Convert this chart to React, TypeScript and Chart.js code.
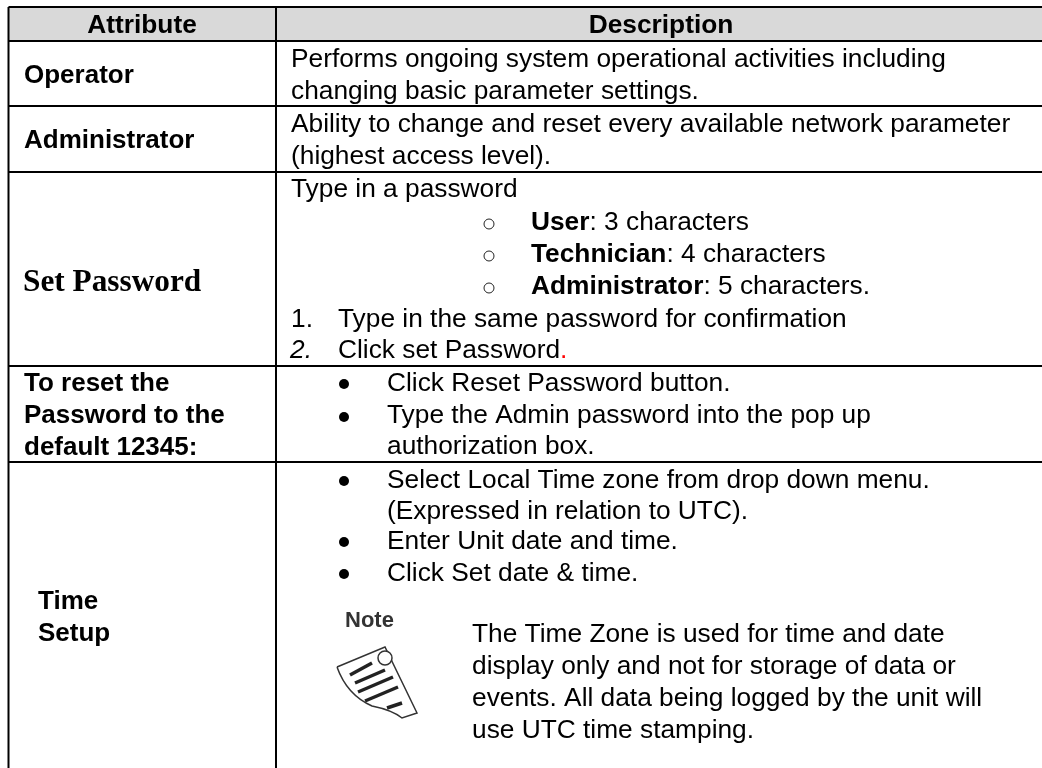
import React, { useEffect, useRef } from "react";
import { Chart, registerables } from "chart.js";

Chart.register(...registerables);

const WIDTH = 1042;
const HEIGHT = 768;
// Chart.js insets the plot area by the largest point overflow, so the canvas grows by it.
const OVERFLOW = 6;

// Table structure
const columnRules = [8.5, 276];
const rowRules = [7, 41, 106, 172, 366, 462];
const headerLabels = ["Attribute", "Description"];
const attributes = ["Operator", "Administrator", "Set Password", "To reset the", "Password to the", "default 12345:", "Time", "Setup"];
const descriptionLines = [
  "Performs ongoing system operational activities including",
  "changing basic parameter settings.",
  "Ability to change and reset every available network parameter",
  "(highest access level).",
  "Type in a password",
];
const passwordRoles = ["User", "Technician", "Administrator"];
const passwordLengths = [": 3 characters", ": 4 characters", ": 5 characters."];
const numberedSteps = ["Type in the same password for confirmation", "Click set Password"];
const bulletLines = [
  "Click Reset Password button.",
  "Type the Admin password into the pop up",
  "authorization box.",
  "Select Local Time zone from drop down menu.",
  "(Expressed in relation to UTC).",
  "Enter Unit date and time.",
  "Click Set date & time.",
];
const noteLines = [
  "The Time Zone is used for time and date",
  "display only and not for storage of data or",
  "events. All data being logged by the unit will",
  "use UTC time stamping.",
];

// Placement
const attributeAt = [[24, 83], [24, 148], [23, 291], [24, 391], [24, 423], [24, 455], [38, 609], [38, 641]];
const descriptionY = [67, 99, 132, 164, 197];
const roleY = [230, 262, 294];
const stepY = [327, 358];
const bulletLineY = [391, 423, 454, 488, 519, 549, 581];
const noteY = [642, 674, 706, 738];
const openBullets = [[489, 224], [489, 256], [489, 288]];
const solidBullets = [[344, 384], [344, 417], [344, 481], [344, 542], [344, 574]];

const SANS = '"Liberation Sans"';
const BODY = `26.3px ${SANS}`;
const BOLD = `bold 26px ${SANS}`;

const rule = (data: { x: number; y: number }[]) => ({
  type: "scatter" as const,
  data,
  showLine: true,
  borderColor: "#000",
  borderWidth: 2,
  pointRadius: 0,
  order: 1,
});

const tablePlugin = {
  id: "tableText",
  beforeDatasetsDraw(chart: any) {
    const { ctx, scales } = chart;
    const X = (v: number) => scales.x.getPixelForValue(v);
    const Y = (v: number) => scales.y.getPixelForValue(v);
    ctx.save();
    ctx.fillStyle = "#d9d9d9";
    ctx.fillRect(X(columnRules[0]), Y(rowRules[0]), X(WIDTH) - X(columnRules[0]), Y(rowRules[1]) - Y(rowRules[0]));
    ctx.restore();
  },
  afterDatasetsDraw(chart: any) {
    const { ctx, scales } = chart;
    const X = (v: number) => scales.x.getPixelForValue(v);
    const Y = (v: number) => scales.y.getPixelForValue(v);
    const put = (s: string, x: number, y: number, font = BODY, color = "#000", align: CanvasTextAlign = "left") => {
      ctx.font = font;
      ctx.fillStyle = color;
      ctx.textAlign = align;
      ctx.textBaseline = "alphabetic";
      ctx.fillText(s, X(x), Y(y));
      return ctx.measureText(s).width;
    };
    ctx.save();
    const HEAD = `bold 26.3px ${SANS}`;
    put(headerLabels[0], 142, 33, HEAD, "#000", "center");
    put(headerLabels[1], 661, 33, HEAD, "#000", "center");
    attributes.forEach((s, i) => {
      const f = s === "Set Password" ? 'bold 31.3px "Liberation Serif"' : BOLD;
      put(s, attributeAt[i][0], attributeAt[i][1], f);
    });
    descriptionLines.forEach((s, i) => put(s, 291, descriptionY[i]));
    passwordRoles.forEach((s, i) => {
      const w = put(s, 531, roleY[i], HEAD);
      put(passwordLengths[i], 531 + w, roleY[i]);
    });
    put("1.", 291, stepY[0]);
    put("2.", 290, stepY[1], `italic 26.3px ${SANS}`);
    put(numberedSteps[0], 338, stepY[0]);
    const w = put(numberedSteps[1], 338, stepY[1]);
    put(".", 338 + w, stepY[1], BODY, "#ff0000");
    bulletLines.forEach((s, i) => put(s, 387, bulletLineY[i]));
    noteLines.forEach((s, i) => put(s, 472, noteY[i]));
    put("Note", 345, 627, `bold 22px ${SANS}`, "#333");

    // Note icon: a tilted page with a pin
    ctx.filter = "blur(0.5px)";
    ctx.strokeStyle = "#333";
    ctx.lineWidth = 1.5;
    ctx.beginPath();
    ctx.moveTo(X(337), Y(667));
    ctx.lineTo(X(385), Y(647));
    ctx.lineTo(X(417), Y(713));
    ctx.lineTo(X(402), Y(718));
    ctx.quadraticCurveTo(X(392), Y(710), X(372), Y(706));
    ctx.quadraticCurveTo(X(347), Y(695), X(337), Y(667));
    ctx.stroke();
    ctx.lineWidth = 3.5;
    ctx.strokeStyle = "#222";
    [[350, 675, 372, 663], [355, 683, 385, 670], [358, 692, 393, 677], [365, 701, 398, 687], [387, 708, 402, 703]].forEach(
      ([a, b, c, d]) => {
        ctx.beginPath();
        ctx.moveTo(X(a), Y(b));
        ctx.lineTo(X(c), Y(d));
        ctx.stroke();
      },
    );
    ctx.lineWidth = 1.5;
    ctx.strokeStyle = "#333";
    ctx.fillStyle = "#fff";
    ctx.beginPath();
    ctx.arc(X(385), Y(658), 7, 0, Math.PI * 2);
    ctx.fill();
    ctx.stroke();
    ctx.filter = "none";
    ctx.restore();
  },
};

export default function App() {
  const ref = useRef<HTMLCanvasElement>(null);
  useEffect(() => {
    if (!ref.current) return;
    const chart = new Chart(ref.current, {
      type: "scatter",
      data: {
        datasets: [
          ...rowRules.map((y) => rule([{ x: columnRules[0], y }, { x: WIDTH, y }])),
          ...columnRules.map((x) => rule([{ x, y: rowRules[0] }, { x, y: HEIGHT }])),
          {
            type: "scatter" as const,
            data: solidBullets.map(([x, y]) => ({ x, y })),
            pointRadius: 5,
            pointBackgroundColor: "#000",
            pointBorderWidth: 0,
          },
          {
            type: "scatter" as const,
            data: openBullets.map(([x, y]) => ({ x, y })),
            pointRadius: 5,
            pointBackgroundColor: "#fff",
            pointBorderColor: "#222",
            pointBorderWidth: 1,
          },
        ],
      },
      options: {
        responsive: false,
        animation: false,
        layout: { padding: 0 },
        plugins: { legend: { display: false }, tooltip: { enabled: false }, title: { display: false } },
        scales: {
          x: { type: "linear", min: 0, max: WIDTH, display: false },
          y: { type: "linear", min: 0, max: HEIGHT, reverse: true, display: false },
        },
      },
      plugins: [tablePlugin],
    });
    return () => chart.destroy();
  }, []);
  return (
    <canvas
      ref={ref}
      width={WIDTH + OVERFLOW * 2}
      height={HEIGHT + OVERFLOW * 2}
      style={{
        position: "fixed",
        left: -OVERFLOW,
        top: -OVERFLOW,
        width: WIDTH + OVERFLOW * 2,
        height: HEIGHT + OVERFLOW * 2,
        background: "#fff",
      }}
    />
  );
}
